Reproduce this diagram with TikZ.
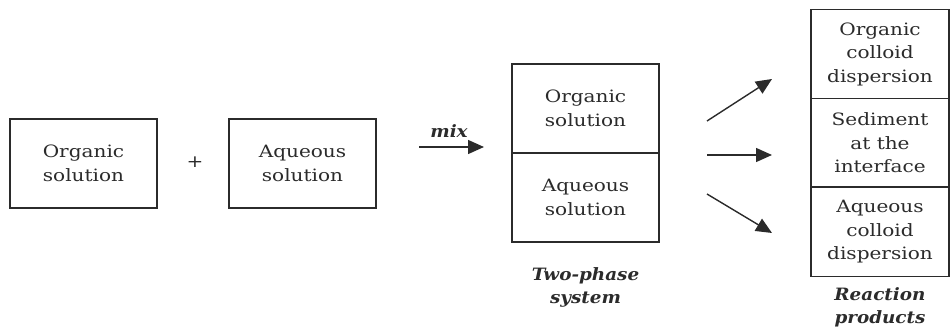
\documentclass[tikz,border=0pt]{standalone}
\usepackage{fontspec}
\setmainfont{DejaVu Serif}[FakeStretch=1.18]
\newfontfamily\legendfont{DejaVu Serif}[FakeStretch=1.08]
\usetikzlibrary{arrows.meta}
\definecolor{ink}{HTML}{2B2B2B}
\tikzset{
  txt/.style={font=\fontsize{17}{23.5}\selectfont, text=ink},
  cell/.style={txt, draw=ink, line width=1.4pt, minimum width=#1, minimum height=89pt,
    inner sep=0pt, align=center},
  cell/.default=147pt,
  legend/.style={align=center, text=ink, font=\legendfont\fontsize{17}{23}\selectfont\bfseries\itshape},
  flow/.style={draw=ink, line width=1.4pt, -{Triangle[length=16pt,width=14pt]}},
}
\begin{document}
\begin{tikzpicture}[x=1pt,y=-1pt]
  \useasboundingbox (0,0) rectangle (950,331);

  % starting solutions
  \node[cell] (org) at (83.5,163.5) {Organic\\solution};
  \node[txt] (plus) at (195,162) {+};
  \node[cell] (aq) at (302.5,163.5) {Aqueous\\solution};

  % mixing step
  \coordinate (mixA) at (419,147);
  \coordinate (mixB) at (484,147);
  \draw[flow] (mixA) -- (mixB);
  \node[legend] (mix) at (449,131) {mix};

  % two-phase system
  \node[cell] (top) at (585.5,108.5) {Organic\\solution};
  \node[cell] (bot) at (585.5,197.5) {Aqueous\\solution};
  \node[legend] (twoph) at (585.5,287) {Two-phase\\system};

  % reaction products
  \node[cell=138pt] (p1) at (880,54.3) {Organic\\colloid\\dispersion};
  \node[cell=138pt] (p2) at (880,143) {Sediment\\at the\\interface};
  \node[cell=138pt] (p3) at (880,231.7) {Aqueous\\colloid\\dispersion};
  \node[legend] (react) at (880,307) {Reaction\\products};

  % branching arrows
  \coordinate (s1) at (707,121);  \coordinate (e1) at (772,79);
  \coordinate (s2) at (707,155);  \coordinate (e2) at (772,155);
  \coordinate (s3) at (707,194);  \coordinate (e3) at (772,233);
  \draw[flow] (s1) -- (e1);
  \draw[flow] (s2) -- (e2);
  \draw[flow] (s3) -- (e3);
\end{tikzpicture}
\end{document}
